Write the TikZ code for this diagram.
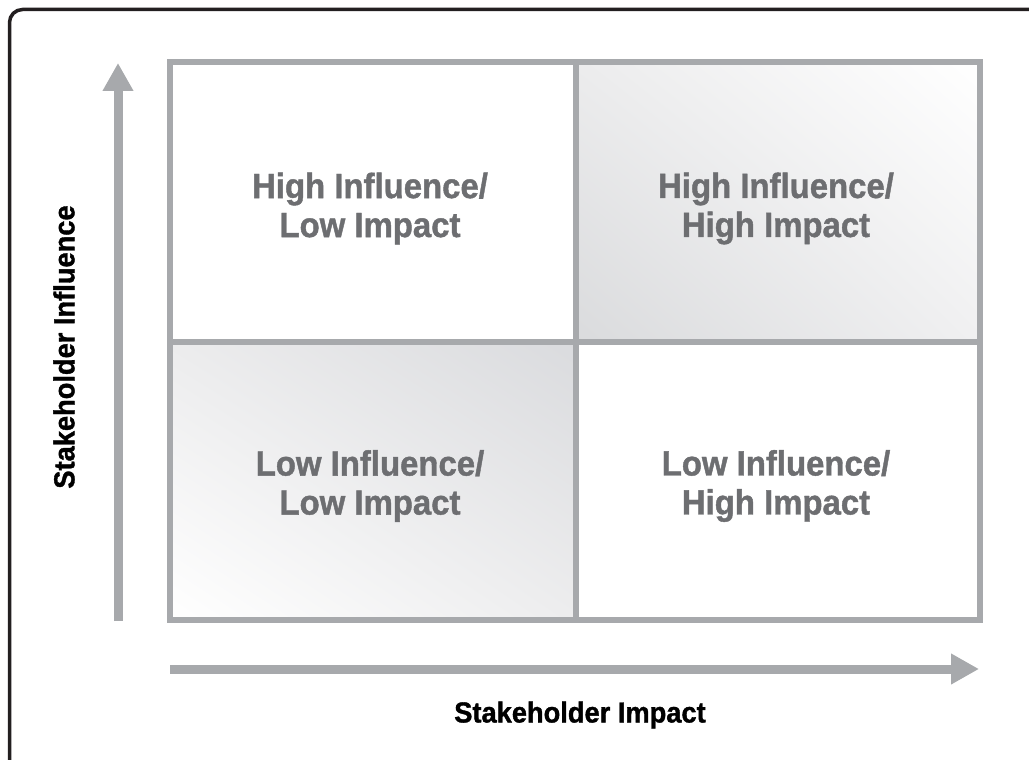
\documentclass[tikz,border=0pt]{standalone}
\usepackage{fontspec}
\newfontfamily\condfont[FakeStretch=0.94,FakeBold=1.2]{Liberation Sans}
\usetikzlibrary{arrows.meta,shadings}
\definecolor{gridgray}{HTML}{A7A9AC}
\definecolor{txtgray}{HTML}{6D6E71}
\definecolor{framec}{HTML}{231F20}
\definecolor{shA}{HTML}{ECECED}
\definecolor{shB}{HTML}{DADBDD}
\definecolor{shC}{HTML}{F0F0F1}
\definecolor{shD}{HTML}{DADBDE}
\definecolor{shE}{HTML}{EDEDEE}
\begin{document}
\begin{tikzpicture}[x=1pt,y=-1pt,
  frame/.style={draw=framec,line width=3.5pt,rounded corners=13pt},
  gridline/.style={draw=gridgray,line width=6.5pt},
  quad/.style={font=\condfont\bfseries\fontsize{35}{39}\selectfont,text=txtgray,align=center,inner sep=0pt},
  axislabel/.style={font=\condfont\bfseries\fontsize{29}{32}\selectfont,text=black,inner sep=0pt},
  axis/.style={draw=gridgray,line width=9pt,-{Triangle[length=28pt,width=29pt]}}]
\useasboundingbox (0,0) rectangle (1029,760);
\clip (0,0) rectangle (1029,760);
\fill[white] (0,0) rectangle (1029,760);
\draw[frame] (9.5,9.5) rectangle (1100,900);
% shaded cells
\shade[upper left=shA,upper right=white,lower left=shB,lower right=shC]
  (576,62) rectangle (980,342);
\shade[upper left=shA,upper right=shD,lower left=white,lower right=shE]
  (170,342) rectangle (576,620);
% grid
\draw[gridline] (170,62) rectangle (980,620);
\draw[gridline] (576,62) -- (576,620);
\draw[gridline] (170,342) -- (980,342);
% quadrant texts
\node[quad] (hl) at (370,208.5) {High Influence/\\Low Impact};
\node[quad] (hh) at (776,208.5) {High Influence/\\High Impact};
\node[quad] (ll) at (370,486) {Low Influence/\\Low Impact};
\node[quad] (lh) at (776,486) {Low Influence/\\High Impact};
% axes
\coordinate (vS) at (118,621);
\coordinate (vE) at (118,63);
\coordinate (hS) at (170,669);
\coordinate (hE) at (979,669);
\draw[axis] (vS) -- (vE);
\draw[axis] (hS) -- (hE);
\node[axislabel,rotate=90] (ylab) at (64,347) {Stakeholder Influence};
\node[axislabel] (xlab) at (580,715) {Stakeholder Impact};
\end{tikzpicture}
\end{document}
